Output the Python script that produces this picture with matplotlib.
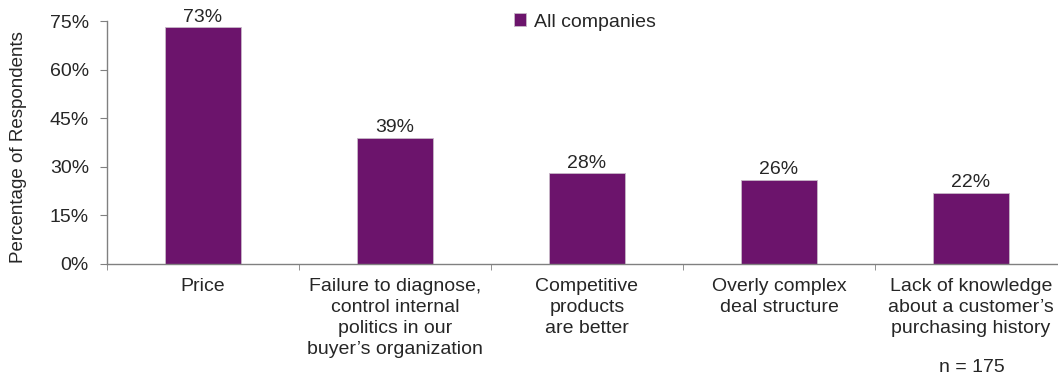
import matplotlib.pyplot as plt
import numpy as np

# data
categories = ['Price',
              'Failure to diagnose,\ncontrol internal\npolitics in our\nbuyer\u2019s organization',
              'Competitive\nproducts\nare better',
              'Overly complex\ndeal structure',
              'Lack of knowledge\nabout a customer\u2019s\npurchasing history']
values = [73, 39, 28, 26, 22]
series_name = 'All companies'

plt.rcParams['font.family'] = ['Liberation Sans', 'DejaVu Sans']
txt = '#262626'
purple = '#6C146C'

fig = plt.figure(figsize=(10.58, 3.76), dpi=100)
ax = fig.add_axes([107 / 1058, (376 - 264) / 376, (1067 - 107) / 1058, 243 / 376])

x = np.arange(len(categories))
bars = ax.bar(x, values, width=0.4, color=purple, edgecolor='#c8b8c8', linewidth=0.6,
              label=series_name, zorder=2)

for xi, v in zip(x, values):
    ax.annotate(f'{v}%', (xi, v), xytext=(0, 1), textcoords='offset points',
                ha='center', va='bottom', fontsize=14, color=txt)

ax.set_xlim(-0.5, len(categories) - 0.5)
ax.set_ylim(0, 75)
ax.set_yticks(np.arange(0, 76, 15))
ax.set_yticklabels([f'{t}%' for t in range(0, 76, 15)])

ax.set_xticks(x)
ax.set_xticklabels(categories, fontsize=14, color=txt, linespacing=1.3)
ax.set_xticks(np.arange(-0.5, len(categories), 1), minor=True)
ax.tick_params(axis='x', which='major', length=0, pad=10)
ax.tick_params(axis='x', which='minor', length=4, color='#808080', direction='out')
ax.tick_params(axis='y', length=5, color='#808080', labelsize=14, labelcolor=txt, pad=8)

for s in ['top', 'right']:
    ax.spines[s].set_visible(False)
for s in ['left', 'bottom']:
    ax.spines[s].set_color('#808080')
    ax.spines[s].set_linewidth(1.0)

fig.text(19 / 1058, 1 - 147 / 376, 'Percentage of Respondents', rotation=90,
         ha='center', va='center', fontsize=13.5, color=txt)

ax.legend(loc='center', bbox_to_anchor=(585 / 1058, 1 - 22 / 376),
          bbox_transform=fig.transFigure, frameon=False, fontsize=14,
          handlelength=0.6, handleheight=0.6, handletextpad=0.4, labelcolor=txt)

fig.text(972 / 1058, 1 - 368 / 376, 'n = 175', ha='center', va='center',
         fontsize=14, color=txt)

fig.savefig('out.png', dpi=100)
